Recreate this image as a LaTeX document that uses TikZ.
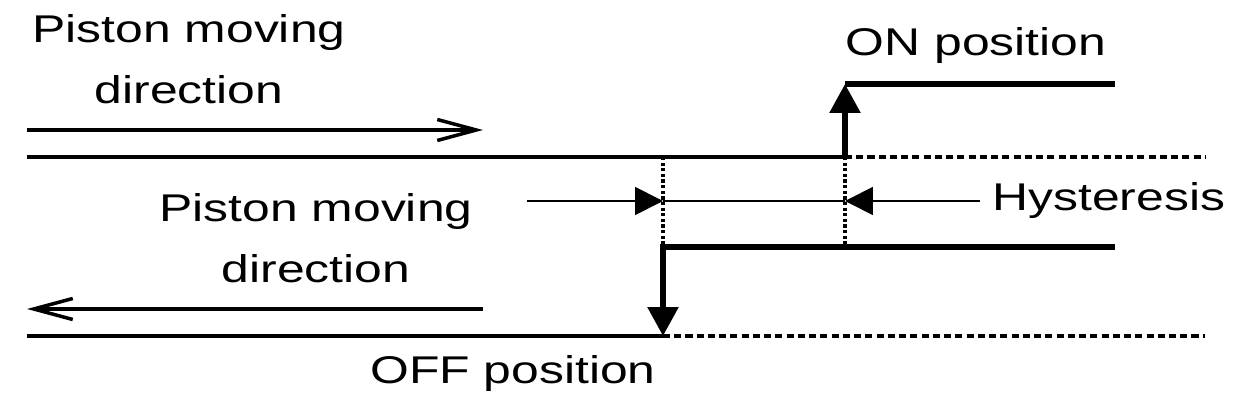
\documentclass[tikz,border=0pt]{standalone}
\usepackage{fontspec}
\setmainfont{Liberation Sans}[FakeStretch=1.29]
\usetikzlibrary{arrows.meta}

\begin{document}
\begin{tikzpicture}[x=0.02cm,y=-0.02cm,
    txt/.style={inner sep=0pt,align=center,font=\fontsize{22}{34.7}\selectfont},
    wire/.style={line width=2pt},
    stepline/.style={line width=3.2pt},
    dashline/.style={line width=2pt,dash pattern=on 4pt off 2.4pt},
    dotline/.style={line width=1.8pt,dash pattern=on 1.8pt off 1.4pt},
    hyst/.style={line width=1pt},
    openhead/.style={-{Straight Barb[length=0.78cm,width=0.42cm,line width=2pt]}},
    fullhead/.style={-{Triangle[length=0.58cm,width=0.6cm]}},
    smallhead/.style={-{Triangle[length=0.56cm,width=0.56cm]}}]
    \useasboundingbox (0,0) rectangle (1249,408);
    % labels
    \node[txt] (dirtop) at (189,59) {Piston moving\\direction};
    \node[txt] (dirbot) at (316,238) {Piston moving\\direction};
    \node[txt,anchor=base] (onlbl) at (976,56) {ON position};
    \node[txt,anchor=base] (offlbl) at (513,384) {OFF position};
    \node[txt,anchor=base west] (hys) at (992,211) {Hysteresis};
    % points
    \coordinate (tl) at (27,157);
    \coordinate (on) at (845,157);
    \coordinate (onT) at (845,84);
    \coordinate (onR) at (1115,84);
    \coordinate (tr) at (1205,157);
    \coordinate (bl) at (27,336);
    \coordinate (off) at (663,336);
    \coordinate (offT) at (663,247);
    \coordinate (offR) at (1115,247);
    \coordinate (br) at (1205,336);
    \coordinate (ua) at (27,130);
    \coordinate (ub) at (483,130);
    \coordinate (la) at (483,309);
    \coordinate (lb) at (27,309);
    \coordinate (hl) at (527,201);
    \coordinate (hr) at (980,201);
    \coordinate (h1) at (663,201);
    \coordinate (h2) at (845,201);
    % direction arrows
    \draw[wire,openhead] (ua) -- (ub);
    \draw[wire,openhead] (la) -- (lb);
    % base lines
    \draw[wire] (tl) -- (on);
    \draw[dashline] (on) -- (tr);
    \draw[wire] (bl) -- (off);
    \draw[dashline] (off) -- (br);
    % hysteresis marks
    \draw[dotline] (663,157) -- (offT);
    \draw[dotline] (on) -- (845,247);
    \draw[hyst,smallhead] (hl) -- (h1);
    \draw[hyst] (h1) -- (h2);
    \draw[hyst,smallhead] (hr) -- (h2);
    % switching steps
    \draw[stepline,fullhead] (on) -- (onT);
    \draw[stepline] (onT) -- (onR);
    \draw[stepline,fullhead,miter limit=10] (offR) -- (offT) -- (off);
\end{tikzpicture}
\end{document}
